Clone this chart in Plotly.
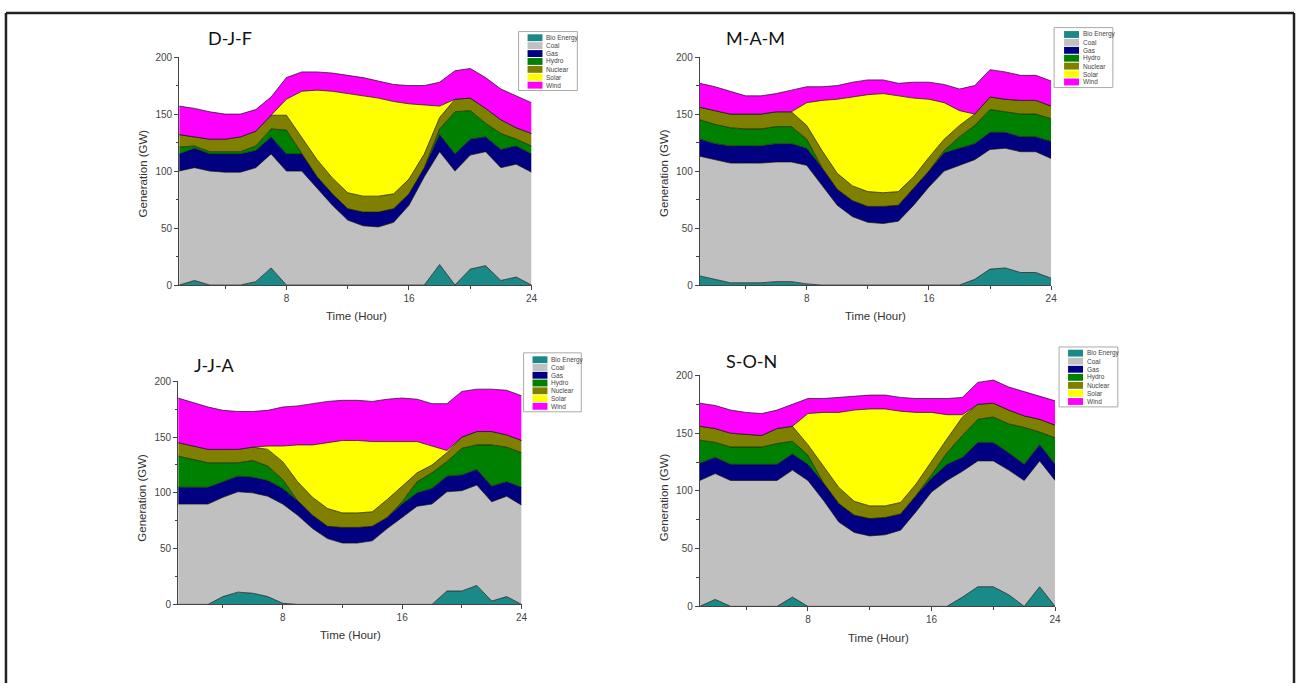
import plotly.graph_objects as go

HOURS = list(range(1, 25))
SOURCES = ["Bio Energy", "Coal", "Gas", "Hydro", "Nuclear", "Solar", "Wind"]
COLORS = ["#1a8a88", "#c0c0c0", "#000080", "#008000", "#808000", "#ffff00", "#ff00ff"]
SEASONS = ["D-J-F", "M-A-M", "J-J-A", "S-O-N"]
X_TICKS = [8, 16, 24]
X_MINOR = [4, 12, 20]
Y_TICKS = [0, 50, 100, 150, 200]
Y_MINOR = [25, 75, 125, 175]

# ---- D-J-F (GW) ----
djf_bio = [0, 4, 0, 0, 0, 3, 15, 0, 0, 0, 0, 0, 0, 0, 0, 0, 0, 18, 0, 14, 17, 4, 7, 0]
djf_coal = [100, 99, 100, 99, 99, 100, 100, 100, 100, 85, 70, 57, 52, 51, 55, 70, 95, 99, 100, 100, 100, 99, 99, 99]
djf_gas = [15, 17, 15, 16, 16, 15, 15, 15, 15, 10, 10, 10, 12, 13, 12, 10, 8, 15, 15, 14, 13, 16, 16, 16]
djf_hydro = [6, 2, 2, 2, 2, 4, 7, 21, 0, 0, 0, 0, 0, 0, 0, 0, 0, 5, 37, 25, 12, 14, 6, 7]
djf_nuclear = [11, 8, 11, 11, 13, 13, 12, 13, 15, 15, 14, 14, 14, 14, 13, 13, 12, 10, 11, 11, 13, 12, 10, 11]
djf_solar = [0, 0, 0, 0, 0, 0, 0, 14, 40, 61, 76, 87, 88, 86, 81, 66, 43, 10, 0, 0, 0, 0, 0, 0]
djf_wind = [25, 25, 24, 22, 20, 19, 16, 19, 17, 16, 16, 16, 16, 15, 15, 16, 17, 21, 25, 26, 27, 27, 28, 27]

# ---- M-A-M (GW) ----
mam_bio = [8, 5, 2, 2, 2, 3, 3, 1, 0, 0, 0, 0, 0, 0, 0, 0, 0, 0, 5, 14, 15, 11, 11, 6]
mam_coal = [105, 105, 105, 105, 105, 105, 105, 104, 88, 70, 60, 55, 54, 56, 70, 86, 100, 105, 105, 105, 105, 106, 106, 105]
mam_gas = [15, 14, 15, 15, 15, 16, 16, 15, 15, 14, 14, 14, 15, 14, 15, 14, 16, 15, 14, 15, 14, 13, 13, 15]
mam_hydro = [17, 17, 16, 15, 15, 15, 15, 8, 0, 0, 0, 0, 0, 0, 0, 0, 2, 10, 16, 20, 18, 20, 20, 20]
mam_nuclear = [11, 12, 12, 13, 13, 13, 13, 12, 15, 14, 13, 13, 12, 12, 10, 12, 10, 10, 10, 11, 11, 12, 12, 11]
mam_solar = [0, 0, 0, 0, 0, 0, 0, 20, 44, 65, 78, 85, 87, 84, 69, 51, 32, 13, 0, 0, 0, 0, 0, 0]
mam_wind = [21, 21, 20, 16, 16, 16, 19, 14, 12, 12, 13, 13, 12, 11, 14, 15, 16, 19, 25, 24, 24, 22, 22, 22]

# ---- J-J-A (GW) ----
jja_bio = [0, 0, 0, 7, 11, 10, 7, 1, 0, 0, 0, 0, 0, 0, 0, 0, 0, 0, 12, 12, 17, 3, 7, 0]
jja_coal = [90, 90, 90, 89, 90, 90, 90, 89, 80, 68, 59, 55, 55, 57, 68, 78, 88, 90, 89, 90, 90, 89, 90, 89]
jja_gas = [15, 15, 15, 14, 14, 14, 14, 14, 13, 12, 11, 14, 14, 13, 10, 12, 12, 14, 14, 14, 14, 14, 13, 16]
jja_hydro = [28, 25, 22, 17, 12, 15, 13, 8, 0, 0, 0, 0, 0, 0, 0, 2, 10, 14, 13, 24, 22, 37, 31, 31]
jja_nuclear = [12, 12, 12, 12, 12, 12, 15, 16, 17, 16, 16, 13, 13, 13, 16, 14, 8, 7, 8, 10, 12, 12, 11, 11]
jja_solar = [0, 0, 0, 0, 0, 0, 3, 14, 33, 47, 59, 65, 65, 63, 52, 40, 28, 17, 2, 0, 0, 0, 0, 0]
jja_wind = [40, 39, 38, 35, 34, 32, 32, 35, 35, 37, 37, 36, 36, 36, 38, 39, 38, 38, 42, 41, 38, 38, 40, 40]

# ---- S-O-N (GW) ----
son_bio = [0, 6, 0, 0, 0, 0, 8, 0, 0, 0, 0, 0, 0, 0, 0, 0, 0, 8, 17, 17, 10, 0, 17, 0]
son_coal = [109, 109, 109, 109, 109, 109, 110, 109, 92, 73, 64, 61, 62, 66, 82, 99, 109, 109, 109, 109, 108, 109, 109, 109]
son_gas = [15, 14, 14, 14, 14, 14, 14, 14, 15, 16, 15, 15, 15, 14, 14, 12, 14, 12, 16, 16, 15, 14, 14, 14]
son_hydro = [20, 13, 15, 15, 15, 18, 11, 8, 0, 0, 0, 0, 0, 0, 0, 3, 10, 19, 20, 22, 25, 32, 11, 23]
son_nuclear = [12, 12, 12, 11, 10, 13, 13, 9, 14, 14, 12, 11, 10, 10, 10, 12, 12, 16, 13, 12, 12, 10, 11, 11]
son_solar = [0, 0, 0, 0, 0, 0, 0, 27, 47, 65, 79, 84, 84, 79, 62, 42, 21, 2, 0, 0, 0, 0, 0, 0]
son_wind = [20, 20, 20, 19, 19, 16, 19, 13, 12, 13, 12, 12, 12, 12, 12, 12, 14, 15, 19, 20, 20, 21, 20, 21]

season_data = [
    [djf_bio, djf_coal, djf_gas, djf_hydro, djf_nuclear, djf_solar, djf_wind],
    [mam_bio, mam_coal, mam_gas, mam_hydro, mam_nuclear, mam_solar, mam_wind],
    [jja_bio, jja_coal, jja_gas, jja_hydro, jja_nuclear, jja_solar, jja_wind],
    [son_bio, son_coal, son_gas, son_hydro, son_nuclear, son_solar, son_wind],
]

W, H = 1301, 689
def fx(x):
    return x / W
def fy(y):
    return 1 - y / H

# panel plot areas in pixels: (left, right, top, bottom)
PANELS = [(180, 534, 52, 284), (703, 1056, 52, 284), (179, 524, 382, 609), (703, 1060, 376, 611)]
TITLE_POS = [(207, 33), (727, 33), (193, 365), (727, 361)]
YTITLE_POS = [(144, 170), (667, 170), (143, 500), (667, 500)]
XTITLE_POS = [(358, 316), (880, 316), (352, 640), (883, 643)]
# legend box: (left, right, top, bottom, swatch_left, first_row_y, row_step)
LEGENDS = [(521, 580, 26, 86, 530, 32.3, 8.05),
           (1059, 1118, 22, 83, 1069, 29.0, 8.05),
           (526, 584, 353, 413, 535, 360.0, 7.9),
           (1064, 1123, 347, 408, 1073, 353.3, 8.2)]

fig = go.Figure()
for p, data in enumerate(season_data):
    sfx = "" if p == 0 else str(p + 1)
    for name, vals, col in zip(SOURCES, data, COLORS):
        fig.add_trace(go.Scatter(
            x=HOURS, y=vals, name=name, mode="lines",
            stackgroup="s" + str(p), fillcolor=col,
            line=dict(color="#111111", width=0.7),
            xaxis="x" + sfx, yaxis="y" + sfx, showlegend=False,
        ))

layout = dict(
    width=W, height=H, margin=dict(l=0, r=0, t=0, b=0),
    paper_bgcolor="white", plot_bgcolor="white", showlegend=False,
    font=dict(family="Liberation Sans, Arial, sans-serif", color="#333333"),
)
annotations = []
shapes = []
for p, (l, r, t, b) in enumerate(PANELS):
    sfx = "" if p == 0 else str(p + 1)
    layout["xaxis" + sfx] = dict(
        domain=[fx(l), fx(r)], range=[1, 24], anchor="y" + sfx,
        tickvals=X_TICKS, ticks="outside", ticklen=4, tickwidth=1, tickcolor="#444",
        showline=True, linecolor="#444", linewidth=1, showgrid=False, zeroline=False,
        tickfont=dict(size=10, color="#444"), fixedrange=True,
        minor=dict(tickvals=X_MINOR, ticks="outside", ticklen=2.5, tickcolor="#444"),
    )
    layout["yaxis" + sfx] = dict(
        domain=[fy(b), fy(t)], range=[0, 200], anchor="x" + sfx,
        tickvals=Y_TICKS, ticks="outside", ticklen=4, tickwidth=1, tickcolor="#444",
        showline=True, linecolor="#444", linewidth=1, showgrid=False, zeroline=False,
        tickfont=dict(size=10, color="#444"), fixedrange=True,
        minor=dict(tickvals=Y_MINOR, ticks="outside", ticklen=2.5, tickcolor="#444"),
    )
    tx, ty = TITLE_POS[p]
    annotations.append(dict(x=fx(tx), y=fy(ty), xref="paper", yref="paper", text=SEASONS[p],
                            showarrow=False, xanchor="left", yanchor="middle",
                            font=dict(family="Lato, Open Sans, sans-serif", size=18, color="#111")))
    gx, gy = YTITLE_POS[p]
    annotations.append(dict(x=fx(gx), y=fy(gy), xref="paper", yref="paper", text="Generation (GW)",
                            showarrow=False, textangle=-90, xanchor="center", yanchor="middle",
                            font=dict(size=11.5, color="#333")))
    hx, hy = XTITLE_POS[p]
    annotations.append(dict(x=fx(hx), y=fy(hy), xref="paper", yref="paper", text="Time (Hour)",
                            showarrow=False, xanchor="center", yanchor="middle",
                            font=dict(size=11.5, color="#333")))
    # custom compact legend
    bl, br, bt, bb, sl, r0, step = LEGENDS[p]
    shapes.append(dict(type="rect", xref="paper", yref="paper", x0=fx(bl), x1=fx(br),
                       y0=fy(bb), y1=fy(bt), line=dict(color="#aaaaaa", width=1), fillcolor="white"))
    for i, (name, col) in enumerate(zip(SOURCES, COLORS)):
        yc = r0 + i * step
        shapes.append(dict(type="rect", xref="paper", yref="paper", x0=fx(sl), x1=fx(sl + 15),
                           y0=fy(yc + 3.5), y1=fy(yc - 3.5), line=dict(width=0), fillcolor=col))
        annotations.append(dict(x=fx(sl + 17), y=fy(yc), xref="paper", yref="paper", text=name,
                                showarrow=False, xanchor="left", yanchor="middle",
                                font=dict(size=6.5, color="#444")))

# outer frame (top, left, right)
for (x0, y0, x1, y1) in [(6, 7, 1300, 7), (6, 7, 6, 689), (1300, 7, 1300, 689)]:
    shapes.append(dict(type="line", xref="paper", yref="paper", x0=fx(x0), y0=fy(y0),
                       x1=fx(x1), y1=fy(y1), line=dict(color="#222222", width=2.5)))

layout["annotations"] = annotations
layout["shapes"] = shapes
fig.update_layout(**layout)
fig.write_html("out.html", config={"displayModeBar": False},
               post_script="document.body.style.margin='0';document.body.style.overflow='hidden';")
